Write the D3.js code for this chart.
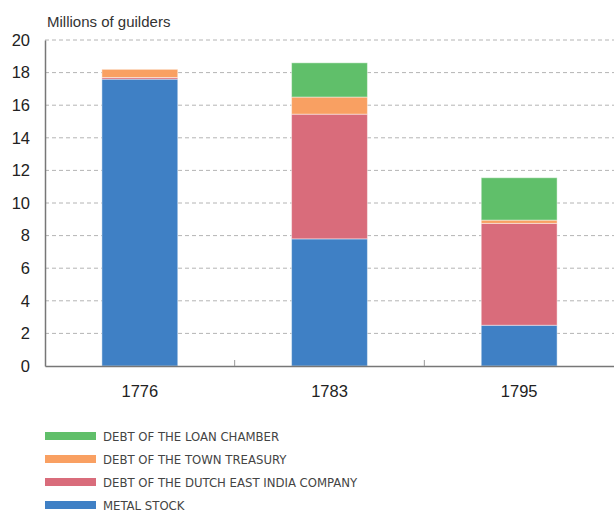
<!DOCTYPE html>
<html>
<head>
<meta charset="utf-8">
<script src="https://cdn.jsdelivr.net/npm/d3@7"></script>
<style>
  body { margin: 0; background: #fff; }
  svg { display: block; }
</style>
</head>
<body>
<svg width="614" height="512"></svg>
<script>
let years = ['1776', '1783', '1795'];
let metalStock = [17.6, 7.8, 2.5];
let vocDebt = [0.1, 7.65, 6.25];
let townDebt = [0.5, 1.05, 0.2];
let loanDebt = [0, 2.1, 2.6];
let yTicks = [0, 2, 4, 6, 8, 10, 12, 14, 16, 18, 20];

let series = [
  { name: 'METAL STOCK', values: metalStock, color: '#3f80c5' },
  { name: 'DEBT OF THE DUTCH EAST INDIA COMPANY', values: vocDebt, color: '#d96c7b' },
  { name: 'DEBT OF THE TOWN TREASURY', values: townDebt, color: '#f9a062' },
  { name: 'DEBT OF THE LOAN CHAMBER', values: loanDebt, color: '#60bf6a' }
];

let plotLeft = 45, plotRight = 614, plotTop = 40, plotBottom = 366;
let font = '"Liberation Sans", Arial, sans-serif';

let svg = d3.select('svg');

let x = d3.scaleBand()
  .domain(years)
  .range([plotLeft, plotRight])
  .paddingInner(0.6)
  .paddingOuter(0.3);

let y = d3.scaleLinear()
  .domain([0, 20])
  .range([plotBottom, plotTop]);

// gridlines
svg.append('g')
  .selectAll('line')
  .data(yTicks.filter(d => d > 0))
  .enter()
  .append('line')
  .attr('x1', plotLeft)
  .attr('x2', plotRight)
  .attr('y1', d => y(d))
  .attr('y2', d => y(d))
  .attr('stroke', '#b4b4b4')
  .attr('stroke-width', 1)
  .attr('stroke-dasharray', '4,3');

// stacked bars
let table = years.map((yr, i) => {
  let row = { year: yr };
  series.forEach(s => row[s.name] = s.values[i]);
  return row;
});
let stack = d3.stack().keys(series.map(s => s.name))(table);

svg.append('g')
  .selectAll('g')
  .data(stack)
  .enter()
  .append('g')
  .attr('fill', (d, i) => series[i].color)
  .selectAll('rect')
  .data(d => d)
  .enter()
  .append('rect')
  .attr('x', d => x(d.data.year))
  .attr('width', x.bandwidth())
  .attr('y', d => y(d[1]))
  .attr('height', d => y(d[0]) - y(d[1]))
  .attr('stroke', 'rgba(255,255,255,0.45)')
  .attr('stroke-width', 1);

// y axis
let yAxis = d3.axisLeft(y).tickValues(yTicks).tickSize(0).tickPadding(15);
let yg = svg.append('g')
  .attr('transform', `translate(${plotLeft},0)`)
  .call(yAxis)
  .attr('font-family', font)
  .attr('font-size', 16.5);
yg.select('.domain').attr('stroke', '#777').attr('stroke-width', 1.5);
yg.selectAll('.tick text').attr('fill', '#222');

// x axis
let xg = svg.append('g')
  .attr('transform', `translate(0,${plotBottom})`)
  .call(d3.axisBottom(x).tickSize(0).tickPadding(19))
  .attr('font-family', font)
  .attr('font-size', 16.5);
xg.select('.domain').attr('stroke', '#777').attr('stroke-width', 1.5);
xg.selectAll('.tick text').attr('fill', '#222');

// small separator ticks between categories
svg.append('g')
  .selectAll('line')
  .data(years.slice(1))
  .enter()
  .append('line')
  .attr('x1', d => x(d) - x.step() * x.paddingInner() / 2)
  .attr('x2', d => x(d) - x.step() * x.paddingInner() / 2)
  .attr('y1', plotBottom)
  .attr('y2', plotBottom - 6)
  .attr('stroke', '#999')
  .attr('stroke-width', 1);

// axis title
svg.append('text')
  .attr('x', 47)
  .attr('y', 27)
  .attr('font-family', font)
  .attr('font-size', 15)
  .attr('fill', '#333')
  .text('Millions of guilders');

// legend
let legend = svg.append('g')
  .selectAll('g')
  .data(series.slice().reverse())
  .enter()
  .append('g')
  .attr('transform', (d, i) => `translate(45,${436 + i * 23})`);

legend.append('rect')
  .attr('x', 0)
  .attr('y', -4)
  .attr('width', 51)
  .attr('height', 8)
  .attr('fill', d => d.color);

legend.append('text')
  .attr('x', 58)
  .attr('y', 5)
  .attr('font-family', '"Liberation Sans Narrow", "DejaVu Sans Condensed", sans-serif')
  .attr('font-size', 13)
  .attr('fill', '#444')
  .text(d => d.name);
</script>
</body>
</html>
